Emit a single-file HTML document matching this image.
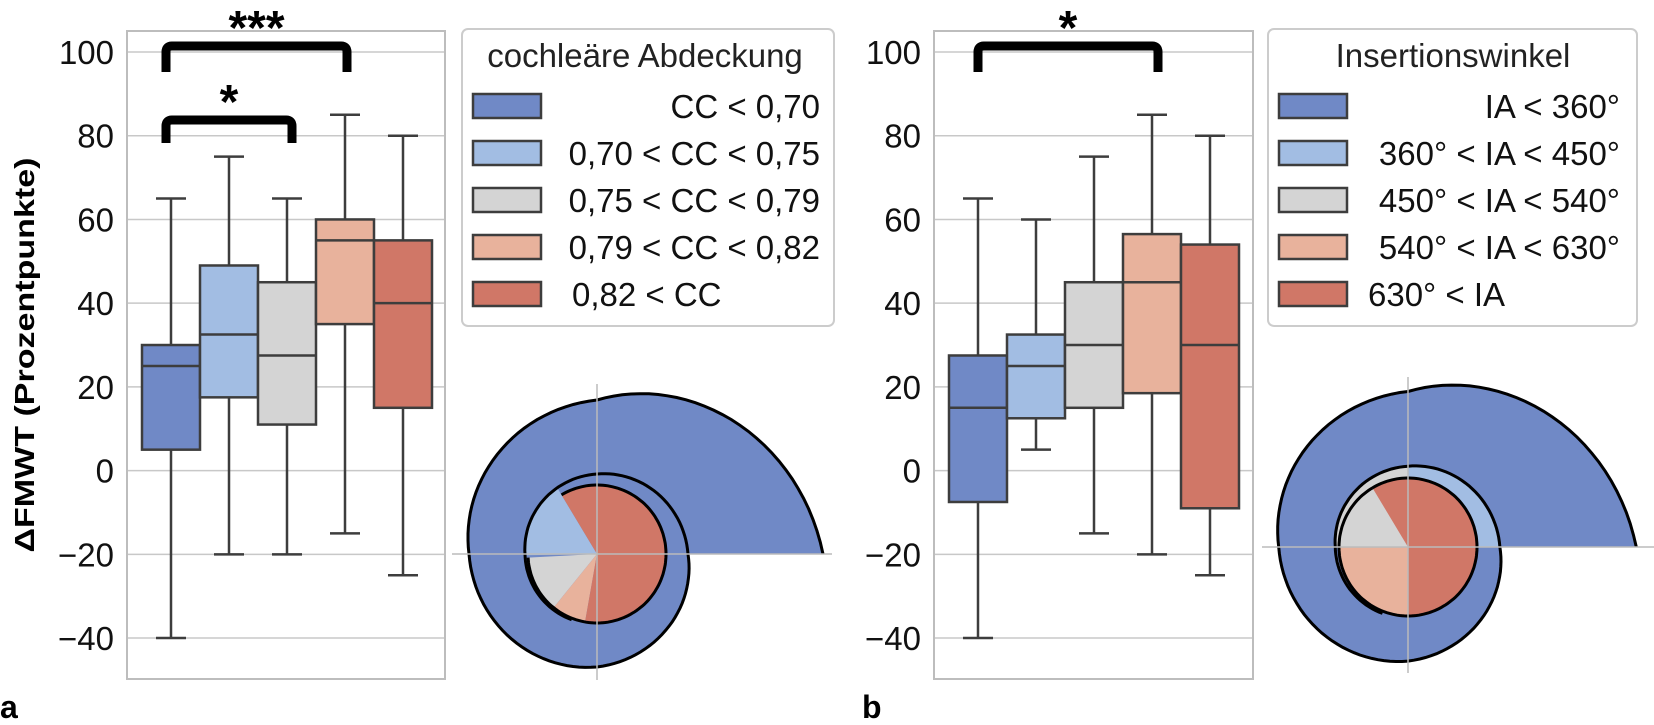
<!DOCTYPE html>
<html><head><meta charset="utf-8">
<style>
html,body{margin:0;padding:0;background:#fff}
svg{display:block;font-family:"Liberation Sans",sans-serif}
</style></head>
<body>
<svg id="chart" width="1654" height="725" viewBox="0 0 1654 725"></svg>
<script>
// ---- data ----
const categoriesA = ["CC < 0,70","0,70 < CC < 0,75","0,75 < CC < 0,79","0,79 < CC < 0,82","0,82 < CC"];
const categoriesB = ["IA < 360°","360° < IA < 450°","450° < IA < 540°","540° < IA < 630°","630° < IA"];
const whiskerLowA = [-40,-20,-20,-15,-25];
const q1A = [5,17.5,11,35,15];
const medianA = [25,32.5,27.5,55,40];
const q3A = [30,49,45,60,55];
const whiskerHighA = [65,75,65,85,80];
const whiskerLowB = [-40,5,-15,-20,-25];
const q1B = [-7.5,12.5,15,18.5,-9];
const medianB = [15,25,30,45,30];
const q3B = [27.5,32.5,45,56.5,54];
const whiskerHighB = [65,60,75,85,80];
const yTicks = [100,80,60,40,20,0,-20,-40];
const yTickLabels = ["100","80","60","40","20","0","\u221220","\u221240"];
const colors = ["#7089c6","#a2bde3","#d4d4d4","#e8b29c","#d07767"];

const NS="http://www.w3.org/2000/svg";
const svg=document.getElementById('chart');
function mk(tag,attrs,parent){const e=document.createElementNS(NS,tag);for(const k in attrs)e.setAttribute(k,attrs[k]);(parent||svg).appendChild(e);return e;}
function yScale(v){return 52+(100-v)*4.186;}

function panel(cfg){
  const g=mk('g',{});
  
  
  yTicks.forEach((t,i)=>{
    const l=mk('line',{x1:cfg.x0,x2:cfg.x1,y1:yScale(t),y2:yScale(t),stroke:'#c8c8c8','stroke-width':1.5},g);
    
    
    const tx=mk('text',{x:cfg.x0-13,y:yScale(t)+12,'font-size':33,'text-anchor':'end',fill:'#111'},g);
    tx.textContent=yTickLabels[i];
    
    
  });
  const fr=mk('rect',{x:cfg.x0,y:31,width:cfg.x1-cfg.x0,height:648,fill:'none',stroke:'#bdbdbd','stroke-width':2},g);
  
  
  const bw=58;
  for(let i=0;i<5;i++){
    const cx=cfg.first+bw/2+i*bw;
    const bg=mk('g',{},g);
    
    
    const st={stroke:'#3d3d3d','stroke-width':2.5};
    mk('line',Object.assign({x1:cx,x2:cx,y1:yScale(cfg.wh[i]),y2:yScale(cfg.q3[i])},st),bg);
    mk('line',Object.assign({x1:cx,x2:cx,y1:yScale(cfg.q1[i]),y2:yScale(cfg.wl[i])},st),bg);
    mk('line',Object.assign({x1:cx-15,x2:cx+15,y1:yScale(cfg.wh[i]),y2:yScale(cfg.wh[i])},st),bg);
    mk('line',Object.assign({x1:cx-15,x2:cx+15,y1:yScale(cfg.wl[i]),y2:yScale(cfg.wl[i])},st),bg);
    mk('rect',Object.assign({x:cx-bw/2,y:yScale(cfg.q3[i]),width:bw,height:yScale(cfg.q1[i])-yScale(cfg.q3[i]),fill:colors[i]},st),bg);
    mk('line',Object.assign({x1:cx-bw/2,x2:cx+bw/2,y1:yScale(cfg.med[i]),y2:yScale(cfg.med[i])},st),bg);
  }
  cfg.brackets.forEach(b=>{
    const p=mk('path',{d:`M${b.x1},${b.yb} L${b.x1},${b.yt+6} Q${b.x1},${b.yt} ${b.x1+6},${b.yt} L${b.x2-6},${b.yt} Q${b.x2},${b.yt} ${b.x2},${b.yt+6} L${b.x2},${b.yb}`,fill:'none',stroke:'#000','stroke-width':9},g);
    
    
    const t=mk('text',{x:(b.x1+b.x2)/2,y:b.yt-2,'font-size':48,'font-weight':'bold','text-anchor':'middle'},g);
    t.textContent=b.label;
    
    
  });
  const lg=mk('g',{},g);
  
  
  mk('rect',{x:cfg.lx0,y:29,width:cfg.lx1-cfg.lx0,height:297,rx:6,fill:'#fff',stroke:'#cccccc','stroke-width':2},lg);
  const lt=mk('text',{x:cfg.titleX,y:67,'font-size':33,fill:'#222','text-anchor':'middle'},lg);
  lt.textContent=cfg.title;
  
  
  for(let i=0;i<5;i++){
    const cy=106+i*47;
    const e=mk('g',{},lg);
    
    
    mk('rect',{x:cfg.lx0+11,y:cy-12,width:68,height:24,fill:colors[i],stroke:'#3d3d3d','stroke-width':2.5},e);
    const t=mk('text',i<4?{x:cfg.textEnd,y:cy+12,'font-size':33,'text-anchor':'end',fill:'#111'}:{x:cfg.textStart,y:cy+12,'font-size':33,fill:'#111'},e);
    t.textContent=cfg.cats[i];
  }
}

panel({name:'panel-a',x0:127,x1:445,first:142,wl:whiskerLowA,q1:q1A,med:medianA,q3:q3A,wh:whiskerHighA,
  brackets:[{x1:166,x2:347,yt:46,yb:72,label:'***'},{x1:166,x2:292,yt:120,yb:143,label:'*'}],
  lx0:462,lx1:834,titleX:645,title:'cochleäre Abdeckung',textEnd:820,textStart:572,cats:categoriesA});
panel({name:'panel-b',x0:934,x1:1253,first:949,wl:whiskerLowB,q1:q1B,med:medianB,q3:q3B,wh:whiskerHighB,
  brackets:[{x1:978,x2:1158,yt:46,yb:72,label:'*'}],
  lx0:1268,lx1:1637,titleX:1453,title:'Insertionswinkel',textEnd:1620,textStart:1368,cats:categoriesB});

const yt=mk('text',{x:0,y:0,'font-size':28,'font-weight':'bold','text-anchor':'middle',transform:'translate(34,355) rotate(-90)',textLength:395,lengthAdjust:'spacingAndGlyphs'});
yt.textContent='ΔFMWT (Prozentpunkte)';


const la=mk('text',{x:0,y:718,'font-size':32,'font-weight':'bold'});la.textContent='a';


const lb=mk('text',{x:862,y:718,'font-size':32,'font-weight':'bold'});lb.textContent='b';



// spiral insets
const rKnots=[226,154,128,113,91,80,72,70,68];
function rAt(th){const k=th/90;const i=Math.min(Math.floor(k),rKnots.length-2);const f=k-i;return rKnots[i]*(1-f)+rKnots[i+1]*f;}
function pt(cx,cy,r,th){const a=th*Math.PI/180;return [cx+r*Math.cos(a),cy-r*Math.sin(a)];}
function spiralPts(cx,cy,t0,t1,sc){const p=[];for(let t=t0;t<=t1;t+=3){const q=pt(cx,cy,rAt(t)*sc,t);p.push(q[0].toFixed(1)+','+q[1].toFixed(1));}return p;}
function wedge(cx,cy,r,a0,a1){const p=[cx+','+cy];for(let t=a0;t<=a1;t+=2){const q=pt(cx,cy,r,t);p.push(q[0].toFixed(1)+','+q[1].toFixed(1));}const q=pt(cx,cy,r,a1);p.push(q[0]+','+q[1]);return 'M'+p.join(' L')+'Z';}
function arcPts(cx,cy,r,a0,a1){const p=[];for(let t=a0;t>=a1;t-=2){const q=pt(cx,cy,r,t);p.push(q[0].toFixed(1)+','+q[1].toFixed(1));}const q=pt(cx,cy,r,a1);p.push(q[0].toFixed(1)+','+q[1].toFixed(1));return 'M'+p.join(' L');}
function spiral(cfg){
  const g=mk('g',{});
  
  
  const {cx,cy,sc}=cfg;
  mk('path',{d:'M'+spiralPts(cx,cy,0,360,sc).join(' L')+'Z',fill:'#7089c6'},g);
  cfg.outer.forEach(w=>{
    const d='M'+cx+','+cy+' L'+spiralPts(cx,cy,360+w[0],360+w[1],sc).join(' L')+'Z';
    mk('path',{d:d,fill:colors[w[2]]},g);
  });
  cfg.pie.forEach(w=>mk('path',{d:wedge(cx,cy,69,w[0],w[1]),fill:colors[w[2]]},g));
  mk('path',{d:arcPts(cx,cy,69,cfg.pieStart,cfg.pieEnd),fill:'none',stroke:'#000','stroke-width':3},g);
  mk('path',{d:'M'+spiralPts(cx,cy,0,cfg.spEnd,sc).join(' L'),fill:'none',stroke:'#000','stroke-width':3},g);
  mk('line',{x1:cfg.hx0,x2:cfg.hx1,y1:cy,y2:cy,stroke:'#bbbbbb','stroke-width':1.5},g);
  mk('line',{x1:cx,x2:cx,y1:cy-170,y2:cy+126,stroke:'#bbbbbb','stroke-width':1.5},g);
}
spiral({name:'cochlea-inset-a',cx:597,cy:554,sc:1,hx0:452,hx1:832,spEnd:610,pieStart:121,pieEnd:-177,
  outer:[[121,183,1]],
  pie:[[183,231,2],[231,260,3],[260,481,4]]});
spiral({name:'cochlea-inset-b',cx:1408,cy:547,sc:1.01,hx0:1262,hx1:1654,spEnd:610,pieStart:121,pieEnd:-239,
  outer:[[0,90,1],[90,180,2]],
  pie:[[121,180,2],[180,270,3],[270,481,4]]});
</script>
</body></html>
